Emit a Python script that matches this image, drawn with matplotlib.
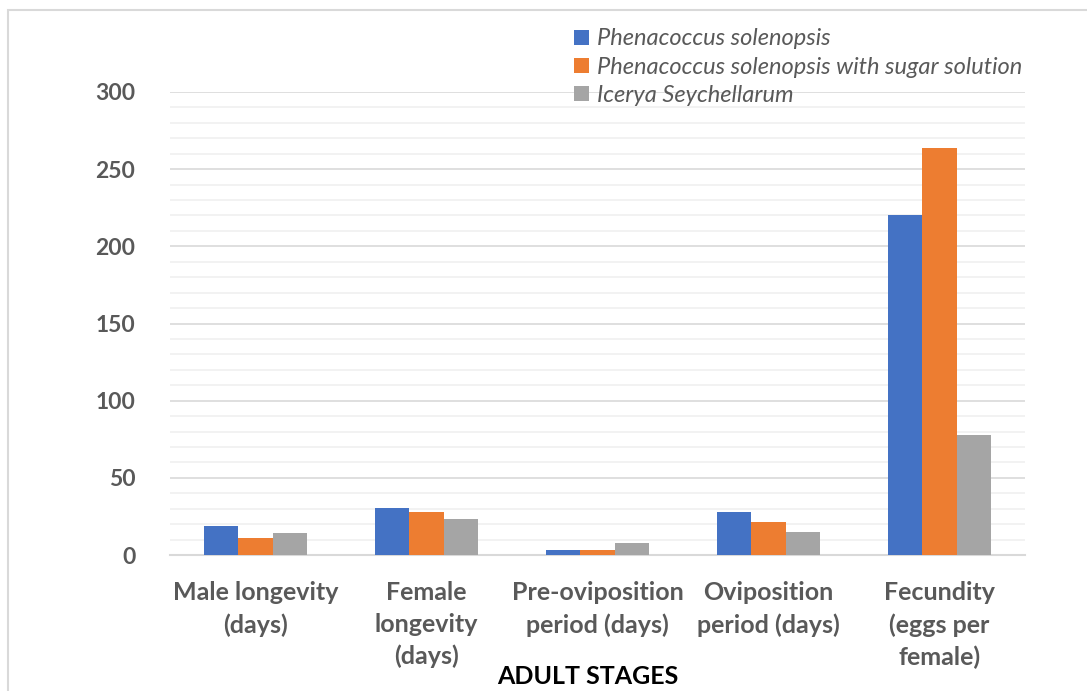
import numpy as np
import matplotlib.pyplot as plt
from matplotlib.patches import Rectangle

categories = ['Male longevity\n(days)', 'Female\nlongevity\n(days)', 'Pre-oviposition\nperiod (days)',
              'Oviposition\nperiod (days)', 'Fecundity\n(eggs per\nfemale)']
series_names = ['Phenacoccus solenopsis', 'Phenacoccus solenopsis with sugar solution', 'Icerya Seychellarum']
p_solenopsis = [18.8, 30.5, 3.2, 27.7, 220]
p_solenopsis_sugar = [10.7, 27.9, 3.3, 21.6, 263.8]
icerya = [14.2, 23.3, 7.8, 15.1, 77.6]
colors = ['#4472C4', '#ED7D31', '#A5A5A5']

plt.rcParams['font.family'] = ['Lato', 'DejaVu Sans']

fig = plt.figure(figsize=(10.87, 6.91), dpi=100)
fig.patches.append(Rectangle((8 / 1087, -0.05), 1.1, 1.05 - 10 / 691, transform=fig.transFigure,
                             fill=False, edgecolor='#d9d9d9', linewidth=1.5))
ax = fig.add_axes([170 / 1087, 1 - 555 / 691, 855 / 1087, 463 / 691])

x = np.arange(len(categories))
w = 0.2
for i, vals in enumerate([p_solenopsis, p_solenopsis_sugar, icerya]):
    ax.bar(x + (i - 1) * w, vals, width=w, color=colors[i], label=series_names[i], zorder=3)

ax.set_xlim(-0.5, len(categories) - 0.5)
ax.set_ylim(0, 300)
ax.set_yticks(np.arange(0, 301, 50))
ax.set_yticks(np.arange(0, 301, 10), minor=True)
ax.grid(axis='y', which='major', color='#d9d9d9', linewidth=1.2, zorder=0)
ax.grid(axis='y', which='minor', color='#f0f0f0', linewidth=1.2, zorder=0)
for s in ['top', 'right', 'left']:
    ax.spines[s].set_visible(False)
ax.spines['bottom'].set_color('#d9d9d9')
ax.spines['bottom'].set_linewidth(1.5)
ax.tick_params(axis='both', which='both', length=0)
ax.tick_params(axis='y', pad=25)
ax.tick_params(axis='x', pad=19)
ax.set_xticks(x)
ax.set_xticklabels(categories, fontsize=18, fontweight='bold', color='#595959', linespacing=1.45)
for lbl in ax.get_yticklabels():
    lbl.set_fontsize(16.5)
    lbl.set_fontweight('bold')
    lbl.set_color('#595959')

fig.text(0.5 + 44 / 1087, 1 - 676 / 691, 'ADULT STAGES', ha='center', va='center',
         fontsize=18, fontweight='bold', color='black')

leg = ax.legend(loc='upper left', bbox_to_anchor=(565 / 1087, 1 - 19 / 691), bbox_transform=fig.transFigure,
                frameon=False, handlelength=0.6, handleheight=0.6, handletextpad=0.35,
                labelspacing=0.3, borderaxespad=0, prop={'style': 'italic', 'size': 17})
for t in leg.get_texts():
    t.set_color('#595959')

plt.savefig('out.png', dpi=100)
plt.close()
